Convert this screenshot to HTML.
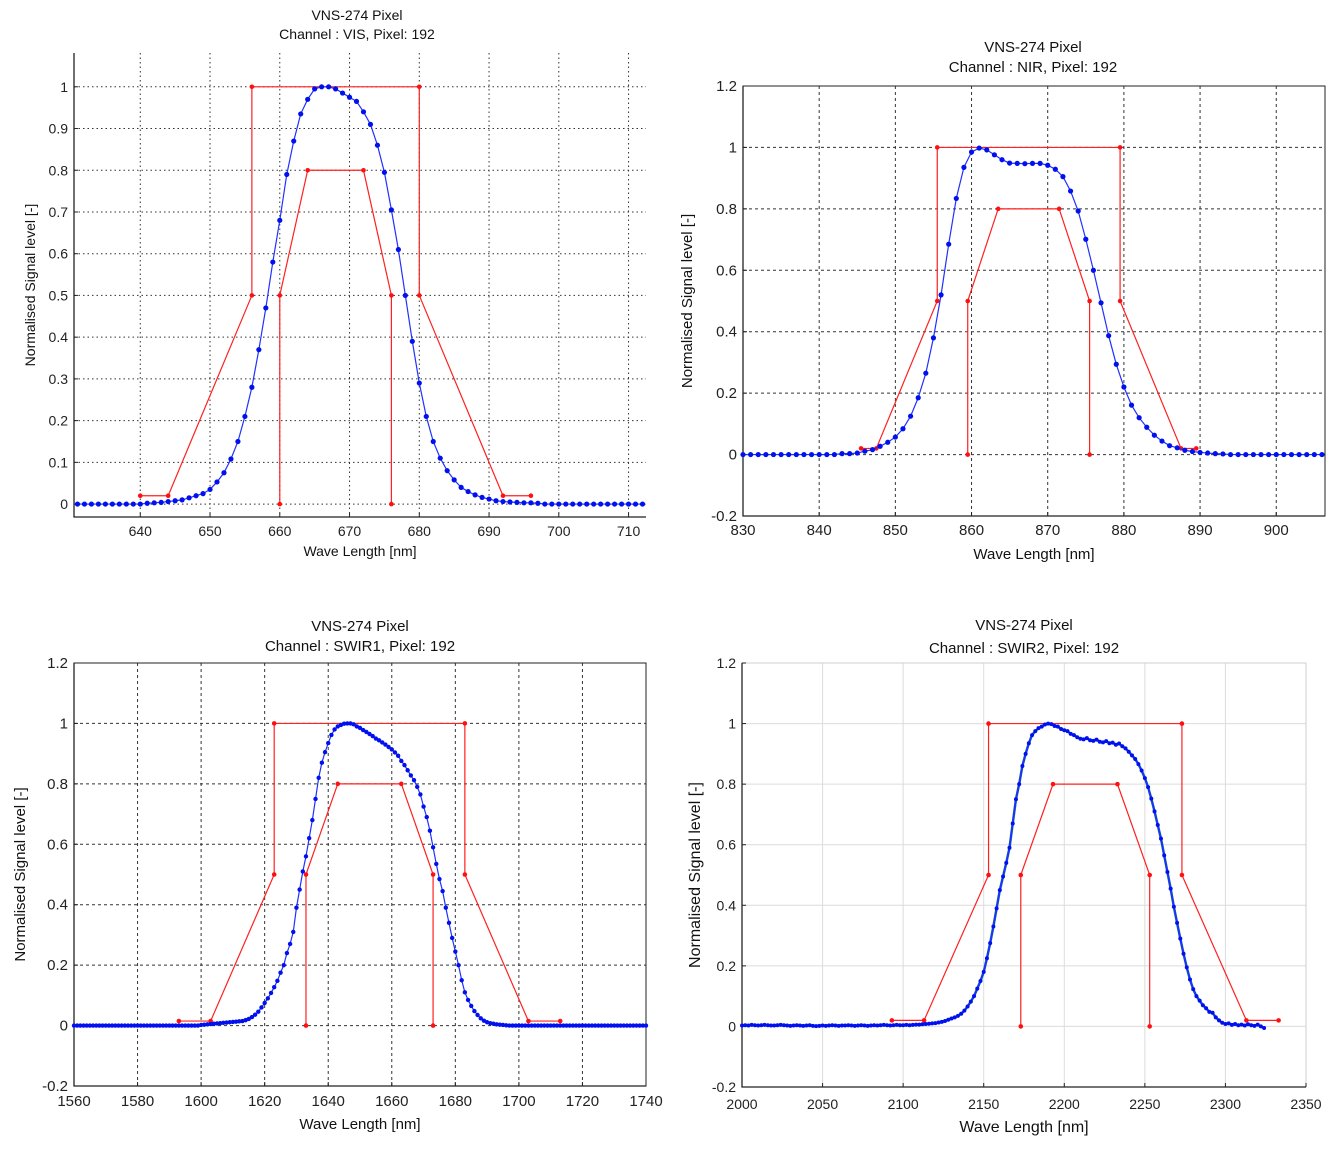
<!DOCTYPE html>
<html><head><meta charset="utf-8"><style>
html,body{margin:0;padding:0;background:#fff;}
svg{display:block;font-family:"Liberation Sans",sans-serif;}
</style></head><body>
<svg id="c" width="1337" height="1149" viewBox="0 0 1337 1149"></svg>
<script>
// ---- VIS data ----
const visStart = 631, visStep = 1;
const visValues = [0,0,0,0,0,0,0,0,0,0,0.002,0.003,0.004,0.006,0.008,0.01,0.015,0.02,0.025,0.035,0.053,0.075,0.108,0.15,0.21,0.28,0.37,0.47,0.58,0.68,0.79,0.87,0.935,0.97,0.995,1.0,1.0,0.995,0.985,0.975,0.965,0.94,0.91,0.86,0.795,0.705,0.61,0.5,0.39,0.29,0.21,0.15,0.11,0.08,0.058,0.04,0.03,0.022,0.016,0.012,0.008,0.006,0.005,0.004,0.003,0.003,0.002,0,0,0,0,0,0,0,0,0,0,0,0,0,0,0];
const visOuterX = [640,644,656,656,680,680,692,696];
const visOuterY = [0.02,0.02,0.5,1,1,0.5,0.02,0.02];
const visInnerX = [660,660,664,672,676,676];
const visInnerY = [0,0.5,0.8,0.8,0.5,0];
const visXTicks = [640,650,660,670,680,690,700,710];
const visYTicks = [0,0.1,0.2,0.3,0.4,0.5,0.6,0.7,0.8,0.9,1];

// ---- NIR data ----
const nirStart = 830, nirStep = 1;
const nirValues = [0,0,0,0,0,0,0,0,0,0,0,0,0,0.003,0.003,0.005,0.011,0.016,0.027,0.04,0.057,0.084,0.125,0.185,0.265,0.38,0.52,0.685,0.834,0.935,0.985,0.998,0.992,0.976,0.96,0.949,0.948,0.947,0.948,0.948,0.942,0.929,0.905,0.858,0.793,0.701,0.6,0.494,0.387,0.294,0.22,0.161,0.12,0.089,0.063,0.044,0.029,0.022,0.014,0.01,0.007,0.005,0.003,0.002,0,0,0,0,0,0,0,0,0,0,0,0,0];
const nirOuterX = [845.5,847.5,855.5,855.5,879.5,879.5,887.5,889.5];
const nirOuterY = [0.02,0.02,0.5,1,1,0.5,0.02,0.02];
const nirInnerX = [859.5,859.5,863.5,871.5,875.5,875.5];
const nirInnerY = [0,0.5,0.8,0.8,0.5,0];
const nirXTicks = [830,840,850,860,870,880,890,900];
const nirYTicks = [-0.2,0,0.2,0.4,0.6,0.8,1,1.2];

// ---- SWIR1 data ----
const sw1Start = 1560, sw1Step = 1;
const sw1Values = [0,0,0,0,0,0,0,0,0,0,0,0,0,0,0,0,0,0,0,0,0,0,0,0,0,0,0,0,0,0,0,0,0,0,0,0,0,0,0,0,
0.002,0.003,0.004,0.005,0.006,0.007,0.008,0.009,0.01,0.011,0.012,0.013,0.014,0.015,0.018,0.022,0.028,0.036,0.046,0.06,0.075,0.09,0.108,0.127,0.148,0.175,0.2,0.24,0.27,0.31,0.39,0.45,0.51,0.56,0.62,0.68,0.75,0.82,0.87,0.905,0.935,0.962,0.98,0.99,0.995,0.999,1.0,1.0,0.997,0.99,0.985,0.978,0.972,0.965,0.958,0.95,0.944,0.937,0.93,0.922,0.914,0.904,0.893,0.876,0.862,0.845,0.828,0.812,0.79,0.765,0.725,0.69,0.645,0.59,0.535,0.485,0.445,0.39,0.34,0.29,0.245,0.2,0.15,0.11,0.085,0.065,0.048,0.035,0.024,0.016,0.011,0.008,0.006,0.004,0.003,0.002,0.001,
0,0,0,0,0,0,0,0,0,0,0,0,0,0,0,0,0,0,0,0,0,0,0,0,0,0,0,0,0,0,0,0,0,0,0,0,0,0,0,0,0,0,0,0];
const sw1OuterX = [1593,1603,1623,1623,1683,1683,1703,1713];
const sw1OuterY = [0.015,0.015,0.5,1,1,0.5,0.015,0.015];
const sw1InnerX = [1633,1633,1643,1663,1673,1673];
const sw1InnerY = [0,0.5,0.8,0.8,0.5,0];
const sw1XTicks = [1560,1580,1600,1620,1640,1660,1680,1700,1720,1740];
const sw1YTicks = [-0.2,0,0.2,0.4,0.6,0.8,1,1.2];

// ---- SWIR2 data ----
const sw2Start = 2000, sw2Step = 2;
const sw2Values = [0.003,0.004,0.003,0.005,0.004,0.003,0.004,0.005,0.004,0.003,0.003,0.004,0.005,0.004,0.003,0.002,0.003,0.004,0.003,0.002,0.003,0.004,0.002,0.001,0.002,0.003,0.002,0.003,0.004,0.003,0.002,0.003,0.003,0.004,0.003,0.002,0.003,0.004,0.003,0.002,0.003,0.004,0.003,0.004,0.005,0.004,0.003,0.004,0.005,0.004,
0.004,0.005,0.004,0.005,0.006,0.006,0.007,0.008,0.009,0.01,0.011,0.013,0.015,0.018,0.022,0.026,0.03,0.035,0.042,0.052,0.066,0.082,0.1,0.125,0.15,0.18,0.225,0.275,0.33,0.39,0.45,0.495,0.54,0.59,0.67,0.75,0.8,0.86,0.9,0.935,0.962,0.975,0.985,0.99,0.997,1.0,0.998,0.992,0.99,0.982,0.978,0.975,0.966,0.962,0.955,0.95,0.948,0.952,0.945,0.943,0.947,0.94,0.938,0.942,0.935,0.937,0.93,0.934,0.925,0.918,0.907,0.895,0.883,0.866,0.845,0.82,0.79,0.752,0.71,0.665,0.62,0.565,0.51,0.455,0.395,0.342,0.29,0.24,0.195,0.155,0.123,0.1,0.085,0.07,0.06,0.048,0.045,0.03,0.02,0.012,0.008,0.01,0.005,0.008,0.004,0.006,0.003,0.007,0.004,0.002,0.006,0.0,-0.005];
const sw2OuterX = [2093,2113,2153,2153,2273,2273,2313,2333];
const sw2OuterY = [0.02,0.02,0.5,1,1,0.5,0.02,0.02];
const sw2InnerX = [2173,2173,2193,2233,2253,2253];
const sw2InnerY = [0,0.5,0.8,0.8,0.5,0];
const sw2XTicks = [2000,2050,2100,2150,2200,2250,2300,2350];
const sw2YTicks = [-0.2,0,0.2,0.4,0.6,0.8,1,1.2];

const NS = 'http://www.w3.org/2000/svg';
const svg = document.getElementById('c');
function mk(tag, attrs, parent, text) {
  const e = document.createElementNS(NS, tag);
  for (const k in attrs) e.setAttribute(k, attrs[k]);
  if (text !== undefined) e.textContent = text;
  (parent || svg).appendChild(e);
  return e;
}

function panel(cfg) {
  const g = mk('g', {});
  
  
  const sx = v => cfg.L + (v - cfg.x0) / (cfg.x1 - cfg.x0) * (cfg.R - cfg.L);
  const sy = v => cfg.B - (v - cfg.y0) / (cfg.y1 - cfg.y0) * (cfg.B - cfg.T);
  const gs = cfg.gridStyle;
  cfg.xTicks.forEach(t => {
    const l = mk('line', {x1: sx(t), x2: sx(t), y1: cfg.T, y2: cfg.B, stroke: gs.c, 'stroke-width': 1, 'stroke-dasharray': gs.d}, g);
    
    
  });
  cfg.yTicks.forEach(t => {
    const l = mk('line', {x1: cfg.L, x2: cfg.R, y1: sy(t), y2: sy(t), stroke: gs.c, 'stroke-width': 1, 'stroke-dasharray': gs.d}, g);
    
    
  });
  if (cfg.box) {
    const r = mk('rect', {x: cfg.L, y: cfg.T, width: cfg.R - cfg.L, height: cfg.B - cfg.T, fill: 'none', stroke: cfg.boxColor || '#222', 'stroke-width': 1}, g);
    
    
  }
  const ax = mk('path', {d: `M${cfg.L},${cfg.T} L${cfg.L},${cfg.B} L${cfg.R},${cfg.B}`, fill: 'none', stroke: '#222', 'stroke-width': 1.3}, g);
  
  
  cfg.xTicks.forEach(t => {
    const tx = mk('text', {x: sx(t), y: cfg.B + cfg.xlOff, 'text-anchor': 'middle', 'font-size': cfg.fs, fill: '#222'}, g, String(t));
    
    
    mk('line', {x1: sx(t), x2: sx(t), y1: cfg.B, y2: cfg.B - 4, stroke: '#222'}, g);
  });
  cfg.yTicks.forEach(t => {
    const ty = mk('text', {x: cfg.L - 6, y: sy(t) + 5, 'text-anchor': 'end', 'font-size': cfg.fs, fill: '#222'}, g, String(t));
    
    
    mk('line', {x1: cfg.L, x2: cfg.L + 4, y1: sy(t), y2: sy(t), stroke: '#222'}, g);
  });
  const t1 = mk('text', {x: cfg.tx, y: cfg.ty, 'text-anchor': 'middle', 'font-size': cfg.tfs, fill: '#111'}, g, 'VNS-274 Pixel');
  
  
  const t2 = mk('text', {x: cfg.tx, y: cfg.ty + cfg.tgap, 'text-anchor': 'middle', 'font-size': cfg.tfs, fill: '#111'}, g, 'Channel : ' + cfg.ch + ', Pixel: 192');
  
  
  const xt = mk('text', {x: (cfg.L + cfg.R) / 2, y: cfg.xtY, 'text-anchor': 'middle', 'font-size': cfg.afs, fill: '#111'}, g, 'Wave Length [nm]');
  
  
  const yc = (cfg.T + cfg.B) / 2 + cfg.ytDy;
  const yt = mk('text', {x: cfg.ytX, y: yc, 'text-anchor': 'middle', 'font-size': cfg.afs, fill: '#111', transform: `rotate(-90 ${cfg.ytX} ${yc})`}, g, 'Normalised Signal level [-]');
  
  
  [[cfg.ox, cfg.oy, 'outer-template'], [cfg.ix, cfg.iy, 'inner-template']].forEach(([X, Y, nm]) => {
    const pts = X.map((x, i) => sx(x) + ',' + sy(Y[i])).join(' ');
    const pl = mk('polyline', {points: pts, fill: 'none', stroke: '#ff2020', 'stroke-width': 1.2}, g);
    
    
    X.forEach((x, i) => {
      const c = mk('circle', {cx: sx(x), cy: sy(Y[i]), r: 2.3, fill: '#ff1010'}, g);
      
      
    });
  });
  const pts = cfg.vals.map((v, i) => sx(cfg.start + i * cfg.step) + ',' + sy(v)).join(' ');
  if (cfg.green) {
    const gl = mk('polyline', {points: pts, fill: 'none', stroke: '#33dd33', 'stroke-width': 2.6}, g);
    
    
  }
  const bl = mk('polyline', {points: pts, fill: 'none', stroke: '#2030ff', 'stroke-width': cfg.lw || 1.2}, g);
  
  
  cfg.vals.forEach((v, i) => {
    const c = mk('circle', {cx: sx(cfg.start + i * cfg.step), cy: sy(v), r: cfg.mr, fill: '#0010ee'}, g);
    
    
  });
}

const dotted = {c: '#333', d: '1.5,3'};
const dashed = {c: '#333', d: '3,3'};
const light = {c: '#dcdcdc', d: 'none'};

panel({name: 'vis', L: 74, R: 646, T: 53, B: 517, x0: 630.5, x1: 712.5, y0: -0.031, y1: 1.081,
  xTicks: visXTicks, yTicks: visYTicks, gridStyle: dotted, box: false, fs: 14, xlOff: 19,
  tx: 357, ty: 20, tgap: 19, tfs: 14, ch: 'VIS', xtY: 556, afs: 14, ytX: 35, ytDy: 0,
  ox: visOuterX, oy: visOuterY, ix: visInnerX, iy: visInnerY, vals: visValues, start: visStart, step: visStep, mr: 2.6});

panel({name: 'nir', L: 743, R: 1325, T: 86, B: 516, x0: 830, x1: 906.4, y0: -0.2, y1: 1.2,
  xTicks: nirXTicks, yTicks: nirYTicks, gridStyle: dashed, box: true, fs: 15, xlOff: 19,
  tx: 1033, ty: 52, tgap: 20, tfs: 15, ch: 'NIR', xtY: 559, afs: 15, ytX: 692, ytDy: 0,
  ox: nirOuterX, oy: nirOuterY, ix: nirInnerX, iy: nirInnerY, vals: nirValues, start: nirStart, step: nirStep, mr: 2.6});

panel({name: 'swir1', L: 74, R: 646, T: 663, B: 1086, x0: 1560, x1: 1740, y0: -0.2, y1: 1.2,
  xTicks: sw1XTicks, yTicks: sw1YTicks, gridStyle: dashed, box: true, fs: 15, xlOff: 20,
  tx: 360, ty: 631, tgap: 20, tfs: 15, ch: 'SWIR1', xtY: 1129, afs: 15, ytX: 25, ytDy: 0,
  ox: sw1OuterX, oy: sw1OuterY, ix: sw1InnerX, iy: sw1InnerY, vals: sw1Values, start: sw1Start, step: sw1Step, mr: 2.2});

panel({name: 'swir2', L: 742, R: 1306, T: 663, B: 1087, x0: 2000, x1: 2350, y0: -0.2, y1: 1.2,
  xTicks: sw2XTicks, yTicks: sw2YTicks, gridStyle: light, box: true, boxColor: '#cfcfcf', fs: 14, xlOff: 22,
  tx: 1024, ty: 630, tgap: 23, tfs: 15, ch: 'SWIR2', xtY: 1132, afs: 16, ytX: 700, ytDy: 0,
  ox: sw2OuterX, oy: sw2OuterY, ix: sw2InnerX, iy: sw2InnerY, vals: sw2Values, start: sw2Start, step: sw2Step, mr: 2.0, lw: 2.2, green: true});
</script>
</body></html>
